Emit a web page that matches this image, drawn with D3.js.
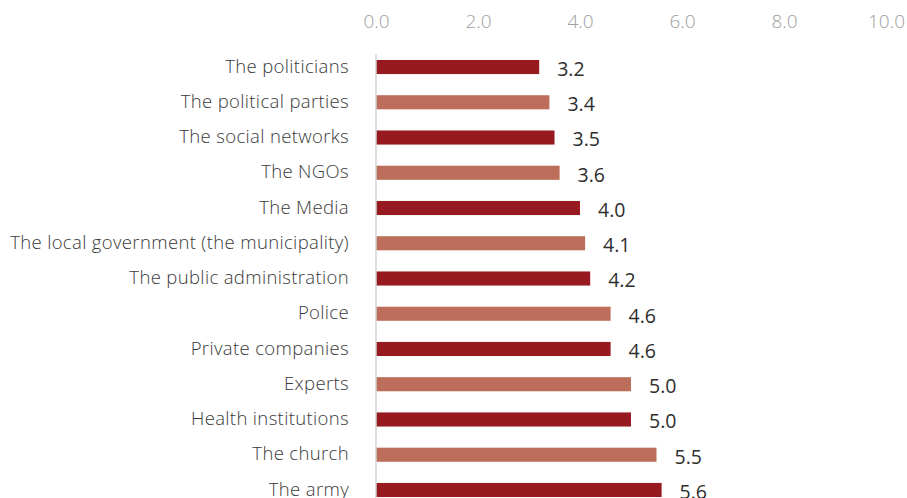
<!DOCTYPE html>
<html>
<head>
<meta charset="utf-8">
<script src="https://cdn.jsdelivr.net/npm/d3@7"></script>
<style>
    body { margin: 0; background: #fff; }
    svg { display: block; }
    text { font-family: "Open Sans", "Noto Sans", sans-serif; }
</style>
</head>
<body>
<div id="chart"></div>
<script>
"use strict";

// data
const categories = [
    "The politicians",
    "The political parties",
    "The social networks",
    "The NGOs",
    "The Media",
    "The local government (the municipality)",
    "The public administration",
    "Police",
    "Private companies",
    "Experts",
    "Health institutions",
    "The church",
    "The army"
];
const values = [3.2, 3.4, 3.5, 3.6, 4.0, 4.1, 4.2, 4.6, 4.6, 5.0, 5.0, 5.5, 5.6];
const tickValues = [0, 2, 4, 6, 8, 10];
const barColors = ["#961a1f", "#bc6e5a"];



// settings
const width = 907,
      height = 498,
      plotLeft = 376,
      plotRight = 886,
      plotTop = 49.4,
      plotBottom = 507.6;



let svg = d3.select("#chart")
    .append("svg")
    .attr("width", width)
    .attr("height", height);



// scales
let scaleX = d3.scaleLinear()
    .domain([0, 10])
    .range([plotLeft, plotRight]);

let scaleY = d3.scaleBand()
    .domain(categories)
    .range([plotTop, plotBottom])
    .paddingInner(0.6)
    .paddingOuter(0.3);



// x axis on top (labels only)
let xAxis = svg.append("g")
    .attr("class", "x_axis")
    .attr("transform", `translate(0, 14)`)
    .call(d3.axisTop(scaleX).tickValues(tickValues).tickFormat(d3.format(".1f")).tickSize(0).tickPadding(0));
xAxis.select(".domain").remove();
xAxis.selectAll("text")
    .attr("dy", "0.71em")
    .attr("fill", "#a0a0a0")
    .attr("font-weight", 300)
    .attr("font-size", "19px");



// bars
svg.append("g")
    .attr("class", "bars")
    .selectAll("rect")
    .data(values)
    .join("rect")
    .attr("x", scaleX(0))
    .attr("y", (d, i) => scaleY(categories[i]))
    .attr("width", d => scaleX(d) - scaleX(0))
    .attr("height", scaleY.bandwidth())
    .attr("fill", (d, i) => barColors[i % 2]);



// y axis line + category labels
let yAxis = svg.append("g")
    .attr("class", "y_axis")
    .attr("transform", `translate(${scaleX(0)}, 0)`)
    .call(d3.axisLeft(scaleY).tickSize(0).tickPadding(27));
yAxis.select(".domain").remove();
yAxis.selectAll("text")
    .attr("fill", "#3a3a3a")
    .attr("font-weight", 300)
    .attr("font-size", "18.5px")
    .attr("letter-spacing", "0.35px")
    .attr("dy", "0.3em");

svg.append("line")
    .attr("x1", scaleX(0))
    .attr("x2", scaleX(0))
    .attr("y1", 54)
    .attr("y2", height)
    .attr("stroke", "#d4d4d4")
    .attr("stroke-width", 1.5);



// value labels
svg.append("g")
    .attr("class", "labels")
    .selectAll("text")
    .data(values)
    .join("text")
    .attr("x", d => scaleX(d) + 18)
    .attr("y", (d, i) => scaleY(categories[i]) + scaleY.bandwidth() / 2 + 2)
    .attr("dy", "0.35em")
    .attr("fill", "#2e2e2e")
    .attr("font-family", "'Liberation Sans', Arial, sans-serif")
    .attr("font-size", "19.5px")
    .text(d => d3.format(".1f")(d));
</script>
</body>
</html>
